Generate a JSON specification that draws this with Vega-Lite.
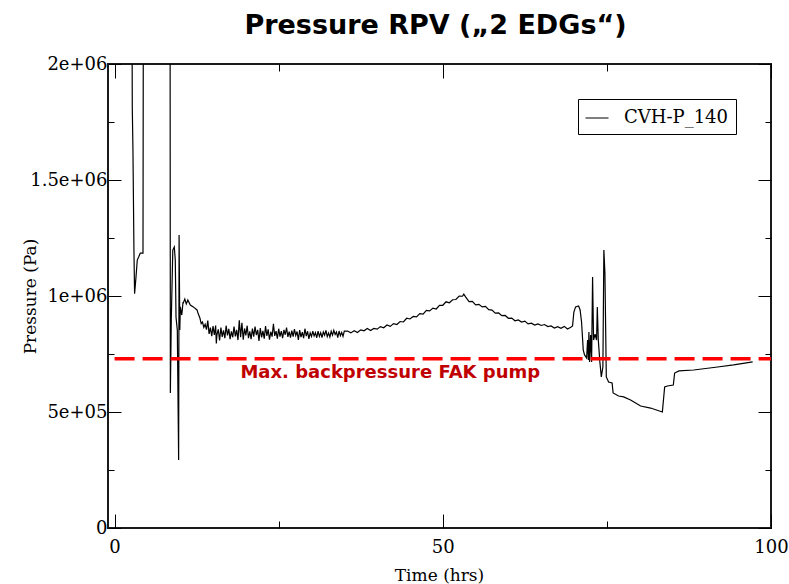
{
  "$schema": "https://vega.github.io/schema/vega-lite/v6.json",
  "width": 663,
  "height": 464,
  "autosize": {"type": "none"},
  "padding": {"left": 108, "top": 64, "right": 18, "bottom": 56},
  "background": "white",
  "title": {"text": "Pressure RPV (\u201e2 EDGs\u201c)", "font": "DejaVu Sans", "fontSize": 27, "fontWeight": "bold", "color": "black", "anchor": "middle", "offset": 15, "dx": -4},
  "config": {
    "view": {"stroke": "#1a1a1a", "strokeWidth": 2},
    "axis": {"domain": false, "grid": false, "labelFlush": false, "labelFont": "DejaVu Serif", "labelFontSize": 18, "labelColor": "black", "titleFont": "DejaVu Serif", "titleFontSize": 17, "titleFontWeight": "normal", "titleColor": "black", "tickColor": "black", "tickWidth": 1},
    "legend": {"strokeColor": "black", "fillColor": "white", "padding": 7, "cornerRadius": 0, "labelFont": "DejaVu Serif", "labelFontSize": 18, "labelColor": "black"}
  },
  "datasets": {
    "pressure": [
      {"t": 0, "p": 2600000}, {"t": 2.62, "p": 2600000}, {"t": 2.7, "p": 1810000}, {"t": 2.8, "p": 1630000}, {"t": 2.95, "p": 1200000}, {"t": 3.05, "p": 1010000}, {"t": 3.26, "p": 1080000}, {"t": 3.46, "p": 1155000}, {"t": 3.7, "p": 1170000}, {"t": 3.92, "p": 1185000}, {"t": 4.33, "p": 1185000}, {"t": 4.4, "p": 2600000},
      {"t": 8.45, "p": 2600000}, {"t": 8.5, "p": 582000}, {"t": 8.64, "p": 897000}, {"t": 8.87, "p": 1198000}, {"t": 9.1, "p": 1211000}, {"t": 9.25, "p": 1155000}, {"t": 9.36, "p": 909000}, {"t": 9.56, "p": 853000}, {"t": 9.76, "p": 293000}, {"t": 9.83, "p": 1263000}, {"t": 9.94, "p": 853000}, {"t": 10.02, "p": 953000}, {"t": 10.24, "p": 918000}, {"t": 10.43, "p": 974000},
      {"t": 10.47, "p": 970000}, {"t": 10.7, "p": 987000}, {"t": 10.93, "p": 966000}, {"t": 11.16, "p": 983000}, {"t": 11.54, "p": 961000}, {"t": 12.0, "p": 953000}, {"t": 12.56, "p": 940000}, {"t": 12.76, "p": 922000},
      {"t": 13.0, "p": 905000}, {"t": 13.2, "p": 881000}, {"t": 13.4, "p": 888000}, {"t": 13.6, "p": 865000}, {"t": 13.8, "p": 878000}, {"t": 14.0, "p": 855000}, {"t": 14.2, "p": 894000}, {"t": 14.4, "p": 837000}, {"t": 14.6, "p": 864000}, {"t": 14.8, "p": 827000}, {"t": 15.0, "p": 870000}, {"t": 15.2, "p": 832000}, {"t": 15.4, "p": 873000}, {"t": 15.5, "p": 795000}, {"t": 15.6, "p": 834000}, {"t": 15.8, "p": 856000}, {"t": 16.0, "p": 808000}, {"t": 16.2, "p": 864000}, {"t": 16.4, "p": 824000}, {"t": 16.6, "p": 852000}, {"t": 16.8, "p": 818000}, {"t": 17.0, "p": 872000}, {"t": 17.2, "p": 830000}, {"t": 17.4, "p": 858000}, {"t": 17.6, "p": 814000}, {"t": 17.8, "p": 848000}, {"t": 18.0, "p": 822000}, {"t": 18.2, "p": 868000}, {"t": 18.4, "p": 826000}, {"t": 18.6, "p": 854000}, {"t": 18.8, "p": 810000}, {"t": 19.0, "p": 895000}, {"t": 19.2, "p": 822000}, {"t": 19.4, "p": 885000}, {"t": 19.6, "p": 812000}, {"t": 19.8, "p": 860000}, {"t": 20.0, "p": 830000}, {"t": 20.2, "p": 872000}, {"t": 20.4, "p": 818000}, {"t": 20.6, "p": 848000}, {"t": 20.8, "p": 814000}, {"t": 21.0, "p": 860000}, {"t": 21.2, "p": 825000}, {"t": 21.4, "p": 868000}, {"t": 21.6, "p": 832000}, {"t": 21.8, "p": 854000}, {"t": 22.0, "p": 806000}, {"t": 22.2, "p": 862000}, {"t": 22.4, "p": 822000}, {"t": 22.6, "p": 850000}, {"t": 22.8, "p": 816000}, {"t": 23.0, "p": 870000}, {"t": 23.2, "p": 828000}, {"t": 23.4, "p": 856000}, {"t": 23.6, "p": 812000}, {"t": 23.8, "p": 846000}, {"t": 24.0, "p": 825000}, {"t": 24.2, "p": 880000}, {"t": 24.4, "p": 828000}, {"t": 24.6, "p": 849000}, {"t": 24.8, "p": 816000}, {"t": 25.0, "p": 859000}, {"t": 25.2, "p": 825000}, {"t": 25.4, "p": 849000}, {"t": 25.6, "p": 818000}, {"t": 25.8, "p": 854000}, {"t": 26.0, "p": 833000}, {"t": 26.2, "p": 864000}, {"t": 26.4, "p": 824000}, {"t": 26.6, "p": 846000}, {"t": 26.8, "p": 821000}, {"t": 27.0, "p": 851000}, {"t": 27.2, "p": 825000}, {"t": 27.4, "p": 857000}, {"t": 27.6, "p": 830000}, {"t": 27.8, "p": 847000}, {"t": 28.0, "p": 811000}, {"t": 28.2, "p": 853000}, {"t": 28.4, "p": 823000}, {"t": 28.6, "p": 844000}, {"t": 28.8, "p": 818000}, {"t": 29.0, "p": 859000}, {"t": 29.2, "p": 827000}, {"t": 29.4, "p": 848000}, {"t": 29.6, "p": 815000}, {"t": 29.8, "p": 841000}, {"t": 30.0, "p": 826000}, {"t": 30.2, "p": 849000}, {"t": 30.4, "p": 828000}, {"t": 30.6, "p": 842000}, {"t": 30.8, "p": 820000}, {"t": 31.0, "p": 849000}, {"t": 31.2, "p": 826000}, {"t": 31.4, "p": 842000}, {"t": 31.6, "p": 821000}, {"t": 31.8, "p": 845000}, {"t": 32.0, "p": 831000}, {"t": 32.2, "p": 852000}, {"t": 32.4, "p": 825000}, {"t": 32.6, "p": 840000}, {"t": 32.8, "p": 823000}, {"t": 33.0, "p": 848000}, {"t": 33.2, "p": 831000}, {"t": 33.4, "p": 852000}, {"t": 33.6, "p": 834000}, {"t": 33.8, "p": 845000}, {"t": 34.0, "p": 821000}, {"t": 34.2, "p": 849000}, {"t": 34.4, "p": 829000}, {"t": 34.6, "p": 843000}, {"t": 34.8, "p": 826000}, {"t": 35.0, "p": 849000},
      {"t": 35.5, "p": 849000}, {"t": 36.0, "p": 841000}, {"t": 36.5, "p": 850000}, {"t": 37.0, "p": 843000}, {"t": 37.5, "p": 854000}, {"t": 38.0, "p": 850000}, {"t": 38.5, "p": 860000}, {"t": 39.0, "p": 851000}, {"t": 39.5, "p": 860000}, {"t": 40.0, "p": 857000}, {"t": 40.5, "p": 868000}, {"t": 41.0, "p": 863000}, {"t": 41.5, "p": 875000}, {"t": 42.0, "p": 869000}, {"t": 42.5, "p": 881000}, {"t": 43.0, "p": 877000}, {"t": 43.5, "p": 890000}, {"t": 44.0, "p": 888000}, {"t": 44.5, "p": 904000}, {"t": 45.0, "p": 901000}, {"t": 45.5, "p": 912000}, {"t": 46.0, "p": 910000}, {"t": 46.5, "p": 924000}, {"t": 47.0, "p": 922000}, {"t": 47.5, "p": 938000}, {"t": 48.0, "p": 936000}, {"t": 48.5, "p": 948000}, {"t": 49.0, "p": 944000}, {"t": 49.5, "p": 960000}, {"t": 50.0, "p": 960000}, {"t": 50.5, "p": 975000}, {"t": 51.0, "p": 971000}, {"t": 51.5, "p": 984000}, {"t": 52.0, "p": 985000}, {"t": 52.5, "p": 1000000}, {"t": 53.0, "p": 999000}, {"t": 53.2, "p": 1008000}, {"t": 53.5, "p": 995000}, {"t": 54.0, "p": 976000}, {"t": 54.5, "p": 977000}, {"t": 55.0, "p": 962000}, {"t": 55.5, "p": 964000}, {"t": 56.0, "p": 953000}, {"t": 56.5, "p": 955000}, {"t": 57.0, "p": 941000}, {"t": 57.5, "p": 939000}, {"t": 58.0, "p": 926000}, {"t": 58.5, "p": 927000}, {"t": 59.0, "p": 915000}, {"t": 59.5, "p": 916000}, {"t": 60.0, "p": 904000}, {"t": 60.5, "p": 905000}, {"t": 61.0, "p": 893000}, {"t": 61.5, "p": 897000}, {"t": 62.0, "p": 888000}, {"t": 62.5, "p": 892000}, {"t": 63.0, "p": 880000}, {"t": 63.5, "p": 883000}, {"t": 64.0, "p": 875000}, {"t": 64.5, "p": 880000}, {"t": 65.0, "p": 873000}, {"t": 65.5, "p": 877000}, {"t": 66.0, "p": 868000}, {"t": 66.5, "p": 871000}, {"t": 67.0, "p": 862000}, {"t": 67.5, "p": 868000}, {"t": 68.0, "p": 861000}, {"t": 68.5, "p": 869000}, {"t": 69.0, "p": 858000}, {"t": 69.5, "p": 865000},
      {"t": 69.77, "p": 871000}, {"t": 69.97, "p": 931000}, {"t": 70.23, "p": 953000}, {"t": 70.69, "p": 957000}, {"t": 70.92, "p": 940000}, {"t": 71.14, "p": 888000}, {"t": 71.4, "p": 767000}, {"t": 71.6, "p": 746000}, {"t": 71.91, "p": 733000}, {"t": 72.06, "p": 810000}, {"t": 72.18, "p": 724000}, {"t": 72.26, "p": 845000}, {"t": 72.36, "p": 716000}, {"t": 72.52, "p": 832000}, {"t": 72.67, "p": 716000}, {"t": 72.82, "p": 1082000}, {"t": 72.97, "p": 810000}, {"t": 73.2, "p": 836000}, {"t": 73.43, "p": 810000}, {"t": 73.54, "p": 953000}, {"t": 73.69, "p": 810000}, {"t": 73.93, "p": 716000}, {"t": 74.15, "p": 651000}, {"t": 74.39, "p": 694000}, {"t": 74.54, "p": 1198000}, {"t": 74.7, "p": 1099000}, {"t": 74.91, "p": 651000}, {"t": 75.26, "p": 629000}, {"t": 75.79, "p": 625000}, {"t": 75.95, "p": 582000}, {"t": 76.78, "p": 569000}, {"t": 77.55, "p": 565000}, {"t": 78.61, "p": 552000}, {"t": 80.14, "p": 526000}, {"t": 81.66, "p": 517000}, {"t": 83.45, "p": 500000}, {"t": 83.8, "p": 608000}, {"t": 84.21, "p": 612000}, {"t": 85.12, "p": 616000}, {"t": 85.32, "p": 668000}, {"t": 85.98, "p": 677000}, {"t": 88.22, "p": 681000}, {"t": 91.87, "p": 694000}, {"t": 94.31, "p": 703000}, {"t": 97.21, "p": 716000}
    ]
  },
  "layer": [
    {
      "data": {"name": "pressure"},
      "mark": {"type": "line", "strokeWidth": 1.2, "clip": true},
      "encoding": {
        "x": {"field": "t", "type": "quantitative", "scale": {"domain": [-1, 100], "nice": false, "zero": false},
          "axis": {"orient": "bottom", "values": [0, 25, 50, 75, 100], "labelExpr": "datum.value % 50 === 0 ? datum.label : ''", "format": "d",
            "tickSize": {"condition": {"test": "datum.value % 50 === 0", "value": -14}, "value": -7},
            "labelPadding": 24, "title": "Time (hrs)", "titleX": 331, "titleY": 47, "titleBaseline": "middle", "titleAlign": "center"}},
        "y": {"field": "p", "type": "quantitative", "scale": {"domain": [0, 2000000], "nice": false},
          "axis": {"orient": "left", "values": [0, 250000, 500000, 750000, 1000000, 1250000, 1500000, 1750000, 2000000],
            "labelExpr": "datum.value === 0 ? '0' : datum.value === 500000 ? '5e+05' : datum.value === 1000000 ? '1e+06' : datum.value === 1500000 ? '1.5e+06' : datum.value === 2000000 ? '2e+06' : ''",
            "tickSize": {"condition": {"test": "datum.value % 500000 === 0", "value": -13}, "value": -6},
            "labelPadding": 14, "title": "Pressure (Pa)", "titleX": -78, "titleY": 232, "titleAngle": -90, "titleAlign": "center", "titleBaseline": "middle"}},
        "color": {"datum": "CVH-P_140", "type": "nominal", "scale": {"range": ["black"]},
          "legend": {"title": null, "orient": "top-right", "offset": 35, "symbolType": "stroke", "symbolSize": 529, "symbolStrokeWidth": 1, "labelOffset": 15}}
      }
    },
    {
      "data": {"values": [{}]},
      "mark": {"type": "rule", "color": "#ff0000", "strokeWidth": 3.5, "strokeDash": [20, 8]},
      "encoding": {
        "x": {"datum": 0, "type": "quantitative", "axis": null},
        "x2": {"datum": 100},
        "y": {"datum": 730000, "type": "quantitative", "axis": null}
      }
    },
    {
      "data": {"values": [{"t": 42, "p": 668000, "label": "Max. backpressure FAK pump"}]},
      "mark": {"type": "text", "font": "DejaVu Sans", "fontSize": 18, "fontWeight": "bold", "color": "#c00000", "align": "center", "baseline": "middle"},
      "encoding": {
        "x": {"field": "t", "type": "quantitative", "scale": {"domain": [-1, 100], "nice": false, "zero": false},
          "axis": {"orient": "top", "values": [0, 25, 50, 75, 100], "labels": false, "title": null,
            "tickSize": {"condition": {"test": "datum.value % 50 === 0", "value": -14}, "value": -7}}},
        "y": {"field": "p", "type": "quantitative", "scale": {"domain": [0, 2000000], "nice": false},
          "axis": {"orient": "right", "values": [0, 250000, 500000, 750000, 1000000, 1250000, 1500000, 1750000, 2000000], "labels": false, "title": null,
            "tickSize": {"condition": {"test": "datum.value % 500000 === 0", "value": -13}, "value": -6}}},
        "text": {"field": "label"}
      }
    }
  ],
  "resolve": {"axis": {"x": "independent", "y": "independent"}}
}
